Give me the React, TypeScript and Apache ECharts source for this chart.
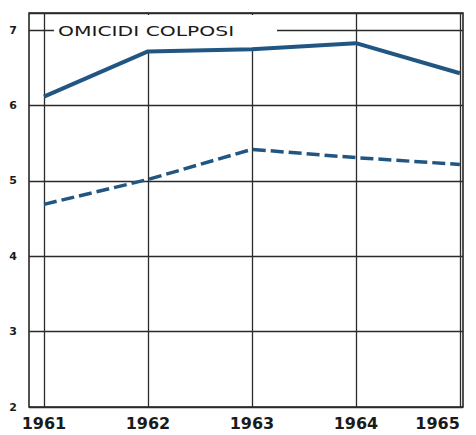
import React, { useEffect, useRef } from "react";
import * as echarts from "echarts";

const years = [1961, 1962, 1963, 1964, 1965];
const solidValues = [6.12, 6.72, 6.75, 6.83, 6.43];
const dashedValues = [4.69, 5.02, 5.42, 5.31, 5.22];
const titleText = "OMICIDI COLPOSI";

const LINE_COLOR = "#215683";
const GRID_COLOR = "#2b2b2b";

export default function App() {
  const ref = useRef<HTMLDivElement>(null);
  useEffect(() => {
    if (!ref.current) return;
    const chart = echarts.init(ref.current, null, { renderer: "svg" });
    chart.setOption({
      animation: false,
      backgroundColor: "#ffffff",
      grid: {
        left: 29,
        right: 13,
        top: 13,
        bottom: 28,
        show: true,
        borderColor: "#1a1a1a",
        borderWidth: 1.5,
        backgroundColor: "transparent",
      },
      xAxis: {
        type: "value",
        min: 1960.856,
        max: 1965.03,
        axisLine: { show: false },
        axisTick: { show: false },
        splitLine: { show: false },
        axisLabel: {
          customValues: years,
          formatter: (v: number) => String(Math.round(v)),
          fontSize: 16,
          fontWeight: "bold",
          fontFamily: "DejaVu Sans",
          color: "#1a1a1a",
          margin: 8,
          alignMaxLabel: "right",
        },
      },
      yAxis: {
        type: "value",
        min: 2,
        max: 7.23,
        interval: 1,
        axisLine: { show: false },
        axisTick: { show: false },
        splitLine: { show: true, lineStyle: { color: GRID_COLOR, width: 1.3 } },
        axisLabel: {
          formatter: (v: number) => (Math.abs(v - Math.round(v)) < 1e-6 ? String(v) : ""),
          fontSize: 11,
          fontWeight: "bold",
          fontFamily: "DejaVu Sans",
          color: "#1a1a1a",
          margin: 12,
        },
      },
      graphic: [
        {
          type: "rect",
          z: 1.5,
          shape: { x: 54, y: 15, width: 223, height: 35 },
          style: { fill: "#ffffff" },
          silent: true,
        },
        {
          type: "text",
          z: 3,
          x: 58,
          y: 31,
          scaleX: 1.45,
          style: {
            text: titleText,
            fontSize: 14,
            fontFamily: "DejaVu Sans",
            fill: "#1a1a1a",
            verticalAlign: "middle",
            align: "left",
          },
          silent: true,
        },
      ],
      series: [
        {
          type: "line",
          data: [],
          silent: true,
          markLine: {
            z: 1,
            silent: true,
            symbol: "none",
            label: { show: false },
            lineStyle: { color: GRID_COLOR, width: 1.3, type: "solid" },
            data: years.map((y) => ({ xAxis: y })),
          },
        },
        {
          type: "line",
          z: 2,
          data: years.map((y, i) => [y, solidValues[i]]),
          showSymbol: false,
          symbol: "none",
          lineStyle: { color: LINE_COLOR, width: 4 },
        },
        {
          type: "line",
          z: 2,
          data: years.map((y, i) => [y, dashedValues[i]]),
          showSymbol: false,
          symbol: "none",
          lineStyle: { color: LINE_COLOR, width: 3.5, type: [13, 5] },
        },
      ],
    });
    return () => chart.dispose();
  }, []);
  return <div ref={ref} style={{ width: 476, height: 435, position: "absolute", left: 0, top: 0 }} />;
}
